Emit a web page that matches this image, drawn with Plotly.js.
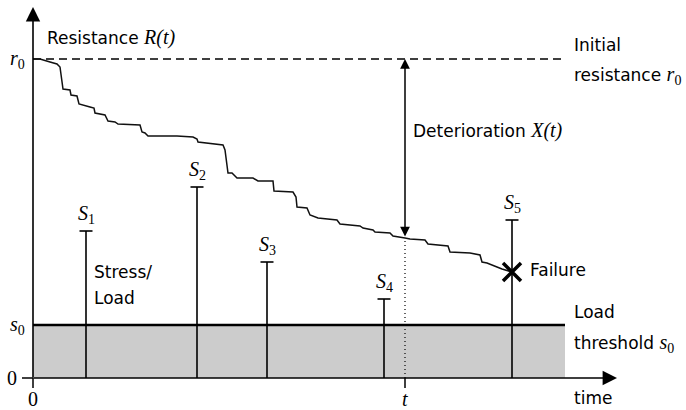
<!DOCTYPE html>
<html><head><meta charset="utf-8">
<script src="https://cdn.plot.ly/plotly-3.0.1.min.js"></script>
<style>html,body{margin:0;padding:0;background:#fff}</style>
</head><body>
<div id="chart" style="width:686px;height:410px"></div>
<script>
// Data (in plot units: x = time, y = level)
const curveX = [0,7,17,24,27,29,30,37,38,44,46,57,61,62,72,75,82,85,107,109,112,115,144,160,164,165,174,190,192,193,194,195,199,204,220,225,240,241,260,263,264,274,277,285,304,307,327,330,340,342,357,360,372,377,392,395,415,417,437,447,449,454,464,469,479];
const curveY = [319,319,316,314,311,298,289,288,283,282,274,271,270,265,263,257,256,254,253,246,245,242,242,241,239,236,235,233,228,218,210,205,205,200,200,197,197,187,186,181,171,170,163,160,158,154,152,150,148,146,145,142,140,139,138,134,132,126,125,123,116,115,111,109,106];
const stressNames = ['1','2','3','4','5'];
const stressX = [53, 164, 234, 351, 479];
const stressY = [147, 191, 116, 79, 158];
const r0 = 319;
const s0 = 53;
const tNow = 372;
const tEnd = 532;
const axisXMax = 584;
const axisYMax = 371;
const failureIdx = curveX.length - 1;

const BLACK = '#000';
const SANS = 'DejaVu Sans, sans-serif';
const MATH = 'Liberation Serif, serif';
const m = s => '<span style="font-family:' + MATH + ';font-style:italic;font-size:20px">' + s + '</span>';
const up = s => '<span style="font-family:' + MATH + ';font-style:normal;font-size:20px">' + s + '</span>';
const sub = s => '<sub><span style="font-style:normal">' + s + '</span></sub>';

const traces = [];
// Stress lines with caps
const capHalf = 6.5;
stressX.forEach((sx, i) => {
  traces.push({x:[sx, sx], y:[0, stressY[i]], mode:'lines', line:{color:BLACK, width:1.6}, hoverinfo:'skip'});
  traces.push({x:[sx - capHalf, sx + capHalf], y:[stressY[i], stressY[i]], mode:'lines', line:{color:BLACK, width:1.6}, hoverinfo:'skip'});
});
// threshold line
traces.push({x:[0, tEnd], y:[s0, s0], mode:'lines', line:{color:BLACK, width:2.6}, hoverinfo:'skip'});
// initial resistance dashed
traces.push({x:[0, tEnd], y:[r0, r0], mode:'lines', line:{color:BLACK, width:1.3, dash:'8px,5px'}, hoverinfo:'skip'});
// resistance curve
traces.push({x:curveX, y:curveY, mode:'lines', line:{color:'#111', width:1.5, shape:'linear'}, hoverinfo:'skip'});
// dotted t line
traces.push({x:[tNow, tNow], y:[0, curveY[curveX.indexOf(tNow)]], mode:'lines', line:{color:BLACK, width:1.2, dash:'1px,3px'}, hoverinfo:'skip'});
// ticks
traces.push({x:[0, 0], y:[0, -10], mode:'lines', line:{color:BLACK, width:1.5}, hoverinfo:'skip'});
traces.push({x:[tNow, tNow], y:[0, -10], mode:'lines', line:{color:BLACK, width:1.5}, hoverinfo:'skip'});
traces.push({x:[-11, 0], y:[0, 0], mode:'lines', line:{color:BLACK, width:1.5}, hoverinfo:'skip'});
// failure marker
traces.push({x:[curveX[failureIdx]], y:[curveY[failureIdx]], mode:'markers', marker:{symbol:'x-thin', size:18, line:{color:BLACK, width:3.5}}, hoverinfo:'skip'});

const ann = [];
const txt = (x, y, text, xa, ya, extra) => Object.assign({x, y, text, xanchor:xa||'left', yanchor:ya||'middle', showarrow:false, font:{family:SANS, size:17, color:BLACK}}, extra||{});
// axes arrows
ann.push({x:0, y:axisYMax, ax:0, ay:-1, axref:'x', ayref:'y', text:'', showarrow:true, arrowhead:2, arrowsize:1.8, arrowwidth:1.6, arrowcolor:BLACK, standoff:0});
ann.push({x:axisXMax, y:0, ax:-1, ay:0, axref:'x', ayref:'y', text:'', showarrow:true, arrowhead:2, arrowsize:1.8, arrowwidth:1.6, arrowcolor:BLACK, standoff:0});
// deterioration double arrow
ann.push({x:tNow, y:r0, ax:tNow, ay:curveY[curveX.indexOf(tNow)], axref:'x', ayref:'y', text:'', showarrow:true, arrowhead:2, startarrowhead:2, arrowside:'end+start', arrowsize:1.3, startarrowsize:1.3, arrowwidth:1.5, arrowcolor:BLACK, standoff:0, startstandoff:0});
// labels
ann.push(txt(12, 341, 'Resistance ' + m('R(t)')));
ann.push(txt(539, 333, 'Initial'));
ann.push(txt(539, 303, 'resistance ' + m('r' + sub('0'))));
ann.push(txt(378, 248, 'Deterioration ' + m('X(t)')));
ann.push(txt(539, 66, 'Load'));
ann.push(txt(539, 35, 'threshold ' + m('s' + sub('0'))));
ann.push(txt(539, -20, 'time'));
ann.push(txt(495, 108, 'Failure'));
ann.push(txt(59, 106, 'Stress/'));
ann.push(txt(59, 80, 'Load'));
stressX.forEach((sx, i) => ann.push(txt(sx, stressY[i] + 2, m('S' + sub(stressNames[i])), 'center', 'bottom')));
ann.push(txt(-16, r0, m('r' + sub('0')), 'center', 'middle'));
ann.push(txt(-16, s0, m('s' + sub('0')), 'center', 'middle'));
ann.push(txt(-21, 0, up('0'), 'center', 'middle'));
ann.push(txt(0, -21, up('0'), 'center', 'middle'));
ann.push(txt(tNow, -21, m('t'), 'center', 'middle'));

const layout = {
  width:686, height:410, margin:{l:0, r:0, t:0, b:0},
  paper_bgcolor:'#fff', plot_bgcolor:'#fff', showlegend:false,
  xaxis:{range:[-33, 653], visible:false, fixedrange:true},
  yaxis:{range:[-32, 378], visible:false, fixedrange:true},
  shapes:[{type:'rect', xref:'x', yref:'y', x0:0, x1:tEnd, y0:0, y1:s0, fillcolor:'#cccccc', line:{width:0}, layer:'below'}],
  annotations: ann
};
Plotly.newPlot('chart', traces, layout, {staticPlot:true, displayModeBar:false});
</script>
</body></html>
